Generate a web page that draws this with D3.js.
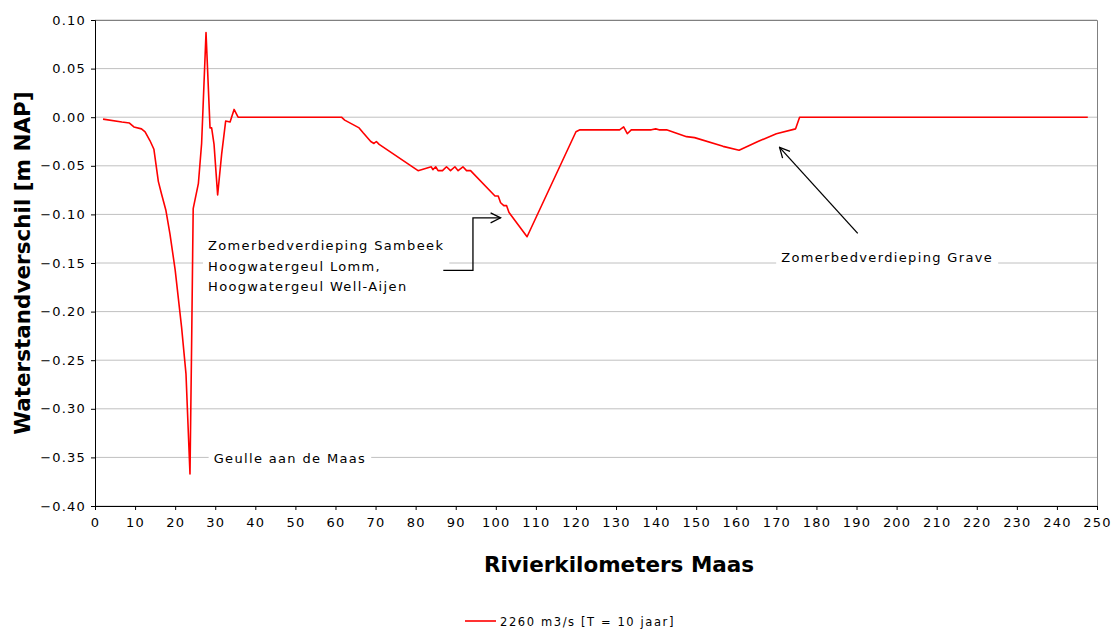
<!DOCTYPE html>
<html>
<head>
<meta charset="utf-8">
<script src="https://cdn.jsdelivr.net/npm/d3@7"></script>
<style>
  body { margin: 0; background: #fff; }
  text { font-family: "DejaVu Sans", Verdana, sans-serif; }
</style>
</head>
<body>
<script>
// river km along the Maas
const km = [2, 6.7, 8.6, 9.7, 11.6, 12.5, 13.7, 14.7, 15.8, 16.6, 17.7, 18.7, 20, 21.6, 22.7, 23.7,
  24.1, 24.5, 25.8, 26.6, 27.7, 28.7, 29.1, 29.7, 30.6, 31.6, 32.6, 33.7, 34.7, 35.7,
  61.5, 62.3, 65.9, 66.9, 68.8, 69.6, 70.2, 70.9, 80.6, 83.9, 84.3, 85.0, 85.6, 86.7, 87.7,
  88.7, 89.8, 90.6, 91.8, 92.7, 93.7, 99.8, 100.6, 101.2, 102.0, 102.7, 103.3, 107.8,
  120.0, 121.0, 130.9, 131.9, 132.8, 133.8, 138.8, 139.9, 140.7, 142.6, 147.6, 149.6,
  156.7, 160.7, 165.4, 170.0, 174.8, 175.8, 247.7];

// water level difference [m NAP]
const verschil = [-0.002, -0.005, -0.006, -0.010, -0.012, -0.015, -0.024, -0.033, -0.066, -0.079, -0.096, -0.120, -0.157, -0.216, -0.264, -0.367,
  -0.236, -0.094, -0.068, -0.027, 0.087, -0.011, -0.011, -0.028, -0.080, -0.038, -0.004, -0.005, 0.008, 0.000,
  0.000, -0.003, -0.011, -0.016, -0.025, -0.027, -0.025, -0.028, -0.055, -0.051, -0.054, -0.051, -0.055, -0.055, -0.051,
  -0.055, -0.051, -0.055, -0.051, -0.055, -0.055, -0.081, -0.081, -0.088, -0.091, -0.091, -0.098, -0.123,
  -0.015, -0.013, -0.013, -0.010, -0.017, -0.013, -0.013, -0.012, -0.013, -0.013, -0.020, -0.021,
  -0.030, -0.034, -0.025, -0.017, -0.012, 0.000, 0.000];

const xTicks = d3.range(0, 251, 10);
const yTicks = [0.10, 0.05, 0.00, -0.05, -0.10, -0.15, -0.20, -0.25, -0.30, -0.35, -0.40];
const seriesName = "2260 m3/s [T = 10 jaar]";

const data = km.map((k, i) => ({ km: k, v: verschil[i] }));

var margin = {top: 20, right: 18, bottom: 123, left: 95},
    W = 1115, H = 629,
    width = W - margin.left - margin.right,
    height = H - margin.top - margin.bottom;

var svg = d3.select("body").append("svg")
    .attr("width", W)
    .attr("height", H);

var g = svg.append("g")
    .attr("transform", "translate(" + margin.left + "," + margin.top + ")");

var x = d3.scaleLinear().domain([0, 250]).range([0, width]);
var y = d3.scaleLinear().domain([-0.40, 0.10]).range([height, 0]);

// gridlines
g.append("g")
    .selectAll("line")
    .data(yTicks)
    .enter().append("line")
    .attr("x1", 0).attr("x2", width)
    .attr("y1", d => y(d)).attr("y2", d => y(d))
    .style("stroke", "#c0c0c0");

// frame (top & right)
g.append("path")
    .attr("d", "M0,0.5H" + (width + 0.5) + "V" + height)
    .style("fill", "none")
    .style("stroke", "#808080");

// axes
var yAxis = g.append("g")
    .call(d3.axisLeft(y).tickValues(yTicks).tickSize(4).tickPadding(5)
        .tickFormat(d3.format(".2f")));
var xAxis = g.append("g")
    .attr("transform", "translate(0," + height + ")")
    .call(d3.axisBottom(x).tickValues(xTicks).tickSize(4).tickPadding(8));
[xAxis, yAxis].forEach(a => {
    a.selectAll("path, line").style("stroke", "#000");
    a.selectAll("text").style("font", "13px 'DejaVu Sans', sans-serif")
        .style("letter-spacing", "1.2px").style("fill", "#000");
});

// the series
var line = d3.line().x(d => x(d.km)).y(d => y(d.v));
g.append("path")
    .datum(data)
    .attr("d", line)
    .style("fill", "none")
    .style("stroke", "#ff0000")
    .style("stroke-width", 1.6)
    .style("stroke-linejoin", "round");

// annotations
function label(lines, lx, ly, lh) {
    var t = g.append("g");
    var txt = t.append("text")
        .style("font", "13px 'DejaVu Sans', sans-serif")
        .style("letter-spacing", "1.35px")
        .style("fill", "#000");
    lines.forEach((s, i) => {
        txt.append("tspan").attr("x", lx).attr("y", ly + i * lh).text(s);
    });
    var b = txt.node().getBBox();
    t.insert("rect", "text")
        .attr("x", b.x - 5).attr("y", b.y - 2)
        .attr("width", b.width + 10).attr("height", b.height + 4)
        .style("fill", "#fff");
}

label(["Geulle aan de Maas"], x(29.6), y(-0.356), 20);
label(["Zomerbedverdieping Sambeek", "Hoogwatergeul Lomm,", "Hoogwatergeul Well-Aijen"], x(28.2), y(-0.137), 20.5);
label(["Zomerbedverdieping Grave"], x(171.2), y(-0.149), 20);

svg.append("defs").append("marker")
    .attr("id", "arr")
    .attr("viewBox", "0 0 12 12")
    .attr("refX", 11).attr("refY", 6)
    .attr("markerWidth", 12).attr("markerHeight", 12)
    .attr("markerUnits", "userSpaceOnUse")
    .attr("orient", "auto")
  .append("path")
    .attr("d", "M1,1L11,6L1,11")
    .style("fill", "none")
    .style("stroke", "#000")
    .style("stroke-width", 1.3);

// elbow connector for Sambeek
g.append("path")
    .attr("d", "M" + x(86.9) + "," + y(-0.1575) + "H" + x(94.3) + "V" + y(-0.1035) + "H" + x(101.2))
    .style("fill", "none")
    .style("stroke", "#000")
    .style("stroke-width", 1.3)
    .attr("marker-end", "url(#arr)");

// straight arrow for Grave
g.append("line")
    .attr("x1", x(190.3)).attr("y1", y(-0.1195))
    .attr("x2", x(170.8)).attr("y2", y(-0.031))
    .style("stroke", "#000")
    .style("stroke-width", 1.3)
    .attr("marker-end", "url(#arr)");

// axis titles
svg.append("text")
    .attr("transform", "translate(30," + (margin.top + height / 2) + ") rotate(-90)")
    .attr("text-anchor", "middle")
    .style("font", "bold 21.5px 'DejaVu Sans', sans-serif")
    .text("Waterstandverschil [m NAP]");

svg.append("text")
    .attr("x", 619)
    .attr("y", 572)
    .attr("text-anchor", "middle")
    .style("font", "bold 21.5px 'DejaVu Sans', sans-serif")
    .text("Rivierkilometers Maas");

// legend
var lg = svg.append("g").attr("transform", "translate(465,621)");
lg.append("line").attr("x1", 0).attr("x2", 31).attr("y1", 0).attr("y2", 0)
    .style("stroke", "#ff0000").style("stroke-width", 1.6);
lg.append("text").attr("x", 35).attr("y", 4.5)
    .style("font", "11.5px 'DejaVu Sans', sans-serif")
    .style("letter-spacing", "1.6px")
    .text(seriesName);
</script>
</body>
</html>
